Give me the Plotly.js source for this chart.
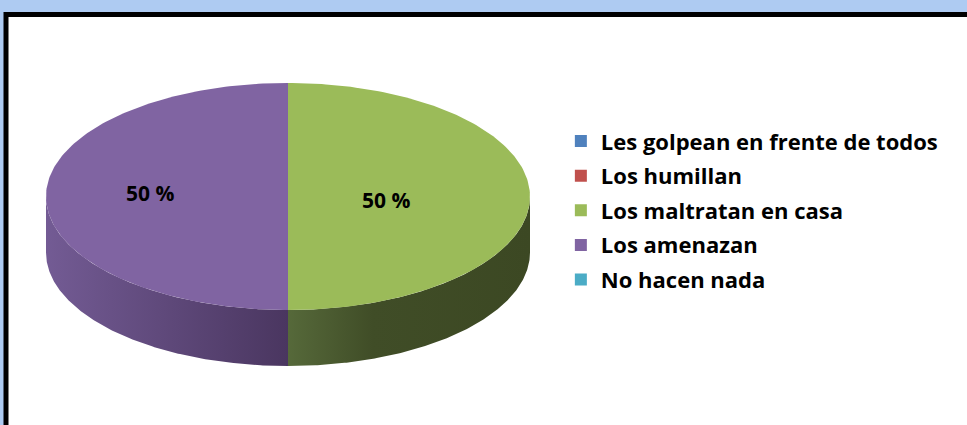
<!DOCTYPE html>
<html>
<head>
<meta charset="utf-8">
<script src="https://cdn.plot.ly/plotly-3.0.1.min.js"></script>
<style>html,body{margin:0;padding:0;background:#aecbf2;}#chart{width:967px;height:425px;}</style>
</head>
<body>
<div id="chart"></div>
<script>
// ---- data ----
const categories = ["Les golpean en frente de todos", "Los humillan", "Los maltratan en casa", "Los amenazan", "No hacen nada"];
const values = [0, 0, 50, 50, 0];
const colors = ["#4f81bd", "#c0504d", "#9bbb59", "#8064a2", "#4bacc6"];
const sideScales = [
  [[0, "#3a5a85"], [1, "#2a4060"]],
  [[0, "#8a3836"], [1, "#602826"]],
  [[0, "#56693a"], [0.35, "#404d27"], [1, "#3c4823"]],
  [[0, "#735b94"], [1, "#4a3660"]],
  [[0, "#357a8c"], [1, "#255866"]]
];

// ---- geometry (pixel space) ----
const W = 967, H = 425;
const cx = 288, cy = 196.5, a = 242, b = 113.5, depth = 56;
const labelFactor = [0.5, 0.5, 0.405, 0.57, 0.5];
const labelDy = [0, 0, 3, -4, 0];
const FONT = "'Open Sans', Lato, sans-serif";

const total = values.reduce((s, v) => s + v, 0);
const pt = (th, dy) => [cx + a * Math.sin(th), cy - b * Math.cos(th) + (dy || 0)];

const sideTraces = [], topTraces = [], legendTraces = [], annotations = [];
let start = 0;
values.forEach((v, i) => {
  const ang = v / total * 2 * Math.PI;
  const t0 = start, t1 = start + ang;
  start = t1;
  if (v <= 0) return;
  const n = Math.max(8, Math.ceil(ang / (2 * Math.PI) * 360));
  // top face
  const tx = [cx], ty = [cy];
  for (let k = 0; k <= n; k++) {
    const p = pt(t0 + (t1 - t0) * k / n);
    tx.push(p[0]); ty.push(p[1]);
  }
  tx.push(cx); ty.push(cy);
  topTraces.push({
    type: "scatter", mode: "lines", x: tx, y: ty, fill: "toself",
    fillcolor: colors[i], line: {width: 0, color: colors[i]},
    hoverinfo: "skip", showlegend: false
  });
  // front side (visible from PI/2 to 3PI/2)
  const s0 = Math.max(t0, Math.PI / 2), s1 = Math.min(t1, 3 * Math.PI / 2);
  if (s1 > s0) {
    const sx = [], sy = [];
    for (let k = 0; k <= n; k++) {
      const p = pt(s0 + (s1 - s0) * k / n);
      sx.push(p[0]); sy.push(p[1]);
    }
    for (let k = n; k >= 0; k--) {
      const p = pt(s0 + (s1 - s0) * k / n, depth);
      sx.push(p[0]); sy.push(p[1]);
    }
    sx.push(sx[0]); sy.push(sy[0]);
    sideTraces.push({
      type: "scatter", mode: "lines", x: sx, y: sy, fill: "toself",
      fillgradient: {type: "horizontal", colorscale: sideScales[i]},
      line: {width: 0, color: colors[i]},
      hoverinfo: "skip", showlegend: false
    });
  }
  // label
  const m = (t0 + t1) / 2;
  const lp = pt(m);
  annotations.push({
    x: cx + (lp[0] - cx) * labelFactor[i],
    y: cy + (lp[1] - cy) * labelFactor[i] + labelDy[i],
    xref: "x", yref: "y", showarrow: false,
    text: Math.round(v / total * 100) + " %",
    font: {family: FONT, size: 21, color: "#000", weight: "bold"}
  });
});

categories.forEach((c, i) => {
  legendTraces.push({
    type: "bar", x: [null], y: [null], name: c, legendgroup: "g" + i,
    marker: {color: colors[i], line: {width: 0}}, hoverinfo: "skip"
  });
});

const layout = {
  width: W, height: H,
  margin: {l: 0, r: 0, t: 0, b: 0},
  paper_bgcolor: "#aecbf2", plot_bgcolor: "#aecbf2",
  xaxis: {range: [0, W], visible: false, fixedrange: true},
  yaxis: {range: [H, 0], visible: false, fixedrange: true},
  showlegend: true,
  legend: {
    x: 0.580, y: 0.717, xanchor: "left", yanchor: "top",
    bgcolor: "rgba(0,0,0,0)", tracegroupgap: 3, traceorder: "grouped",
    font: {family: FONT, size: 22, color: "#000", weight: "bold"}
  },
  shapes: [{
    type: "rect", xref: "x", yref: "y", x0: 6, y0: 14.5, x1: W + 20, y1: H + 20,
    fillcolor: "#ffffff", line: {color: "#000000", width: 5}, layer: "below"
  }],
  annotations: annotations
};

Plotly.newPlot("chart", [...sideTraces, ...topTraces, ...legendTraces], layout, {staticPlot: true, displayModeBar: false});
</script>
</body>
</html>
